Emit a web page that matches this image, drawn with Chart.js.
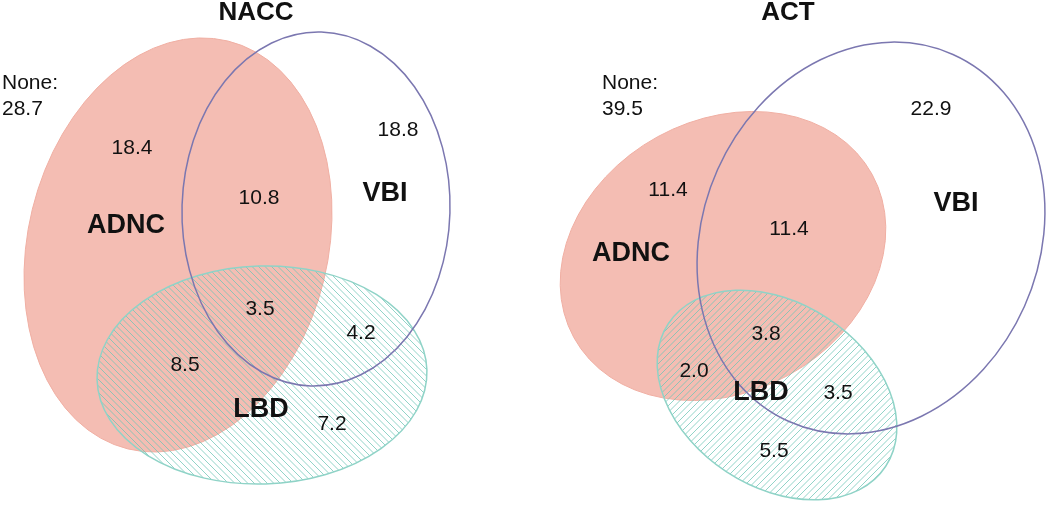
<!DOCTYPE html>
<html>
<head>
<meta charset="utf-8">
<script src="https://cdn.jsdelivr.net/npm/chart.js@4/dist/chart.umd.min.js"></script>
<style>
  body { margin: 0; background: #fff; }
</style>
</head>
<body>
<canvas id="venn" width="1050" height="505"></canvas>
<script>
var cohorts = ['NACC', 'ACT'];
var sets = ['ADNC', 'VBI', 'LBD'];
var regions = ['ADNC', 'ADNC+VBI', 'VBI', 'ADNC+VBI+LBD', 'VBI+LBD', 'ADNC+LBD', 'LBD', 'None'];
var naccValues = [18.4, 10.8, 18.8, 3.5, 4.2, 8.5, 7.2, 28.7];
var actValues = [11.4, 11.4, 22.9, 3.8, 3.5, 2.0, 5.5, 39.5];

// layout, in axis units (axes span the canvas 1:1)
var naccTextPos = [[132, 148], [259, 198], [398, 130], [260, 309], [361, 333], [185, 365], [332, 424], [2, 96]];
var actTextPos = [[668, 190], [789, 229], [931, 109], [766, 334], [838, 393], [694, 371], [774, 451], [602, 96]];
var naccSetPos = [[126, 226], [385, 194], [261, 410]];
var actSetPos = [[631, 254], [956, 204], [761, 393]];
var titlePos = [[256, 13], [788, 13]];

// ellipses: cx, cy, rx, ry, rotation
var naccShapes = [[178, 245, 150, 210, 0.24], [316, 209, 134, 177, 0.03], [262, 375, 165, 109, -0.03]];
var actShapes = [[723, 256, 170, 136, -0.5], [871, 238, 168, 201, 0.42], [777, 395, 130, 92, 0.58]];
var hatchDir = [1, -1];

var allValues = [naccValues, actValues];
var allTextPos = [naccTextPos, actTextPos];
var allSetPos = [naccSetPos, actSetPos];
var allShapes = [naccShapes, actShapes];

var FONT = '"Liberation Sans", Arial, sans-serif';

function toPoints(pos) {
  return pos.map(function (p) { return { x: p[0], y: p[1] }; });
}

var datasets = [];
cohorts.forEach(function (c, i) {
  datasets.push({ label: c + ' regions', kind: 'value', cohort: i, data: toPoints(allTextPos[i]), pointRadius: 0 });
  datasets.push({ label: c + ' sets', kind: 'set', cohort: i, data: toPoints(allSetPos[i]), pointRadius: 0 });
});
datasets.push({ label: 'titles', kind: 'title', data: toPoints(titlePos), pointRadius: 0 });

function ellipsePath(ctx, xs, ys, s) {
  var cx = xs.getPixelForValue(s[0]);
  var cy = ys.getPixelForValue(s[1]);
  var rx = Math.abs(xs.getPixelForValue(s[0] + s[2]) - cx);
  var ry = Math.abs(ys.getPixelForValue(s[1] + s[3]) - cy);
  ctx.beginPath();
  ctx.ellipse(cx, cy, rx, ry, s[4], 0, Math.PI * 2);
  return { cx: cx, cy: cy, r: Math.max(rx, ry) };
}

var vennPlugin = {
  id: 'venn',
  beforeDatasetsDraw: function (chart) {
    var ctx = chart.ctx, xs = chart.scales.x, ys = chart.scales.y;
    allShapes.forEach(function (shapes, i) {
      // ADNC
      ctx.save();
      ellipsePath(ctx, xs, ys, shapes[0]);
      ctx.fillStyle = '#f4bdb3';
      ctx.fill();
      ctx.strokeStyle = '#f0afa3';
      ctx.lineWidth = 1;
      ctx.stroke();
      ctx.restore();

      // LBD hatching
      ctx.save();
      var e = ellipsePath(ctx, xs, ys, shapes[2]);
      ctx.clip();
      ctx.strokeStyle = 'rgba(110, 198, 182, 0.75)';
      ctx.lineWidth = 1;
      var d = hatchDir[i], big = e.r + 10;
      for (var k = -2 * big; k <= 2 * big; k += 6.5) {
        ctx.beginPath();
        ctx.moveTo(e.cx + k - big, e.cy - d * big);
        ctx.lineTo(e.cx + k + big, e.cy + d * big);
        ctx.stroke();
      }
      ctx.restore();

      ctx.save();
      ellipsePath(ctx, xs, ys, shapes[2]);
      ctx.strokeStyle = '#8fd3c7';
      ctx.lineWidth = 1.5;
      ctx.stroke();
      ctx.restore();

      // VBI
      ctx.save();
      ellipsePath(ctx, xs, ys, shapes[1]);
      ctx.strokeStyle = '#7b77b0';
      ctx.lineWidth = 1.5;
      ctx.stroke();
      ctx.restore();
    });
  },
  afterDatasetsDraw: function (chart) {
    var ctx = chart.ctx;
    ctx.save();
    ctx.fillStyle = '#111';
    ctx.textBaseline = 'middle';
    chart.data.datasets.forEach(function (ds, di) {
      var meta = chart.getDatasetMeta(di);
      meta.data.forEach(function (pt, j) {
        if (ds.kind === 'value') {
          var v = allValues[ds.cohort][j].toFixed(1);
          ctx.font = '21px ' + FONT;
          if (regions[j] === 'None') {
            ctx.textAlign = 'left';
            ctx.fillText('None:', pt.x, pt.y - 13);
            ctx.fillText(v, pt.x, pt.y + 13);
          } else {
            ctx.textAlign = 'center';
            ctx.fillText(v, pt.x, pt.y);
          }
        } else if (ds.kind === 'set') {
          ctx.font = 'bold 27px ' + FONT;
          ctx.textAlign = 'center';
          ctx.fillText(sets[j], pt.x, pt.y);
        } else {
          ctx.font = 'bold 26px ' + FONT;
          ctx.textAlign = 'center';
          ctx.fillText(cohorts[j], pt.x, pt.y);
        }
      });
    });
    ctx.restore();
  }
};

new Chart(document.getElementById('venn'), {
  type: 'scatter',
  data: { datasets: datasets },
  options: {
    responsive: false,
    animation: false,
    layout: { padding: 0 },
    plugins: {
      legend: { display: false },
      tooltip: { enabled: false },
    },
    scales: {
      x: { type: 'linear', min: 0, max: 1050, display: false },
      y: { type: 'linear', min: 0, max: 505, reverse: true, display: false },
    },
  },
  plugins: [vennPlugin],
});
</script>
</body>
</html>
